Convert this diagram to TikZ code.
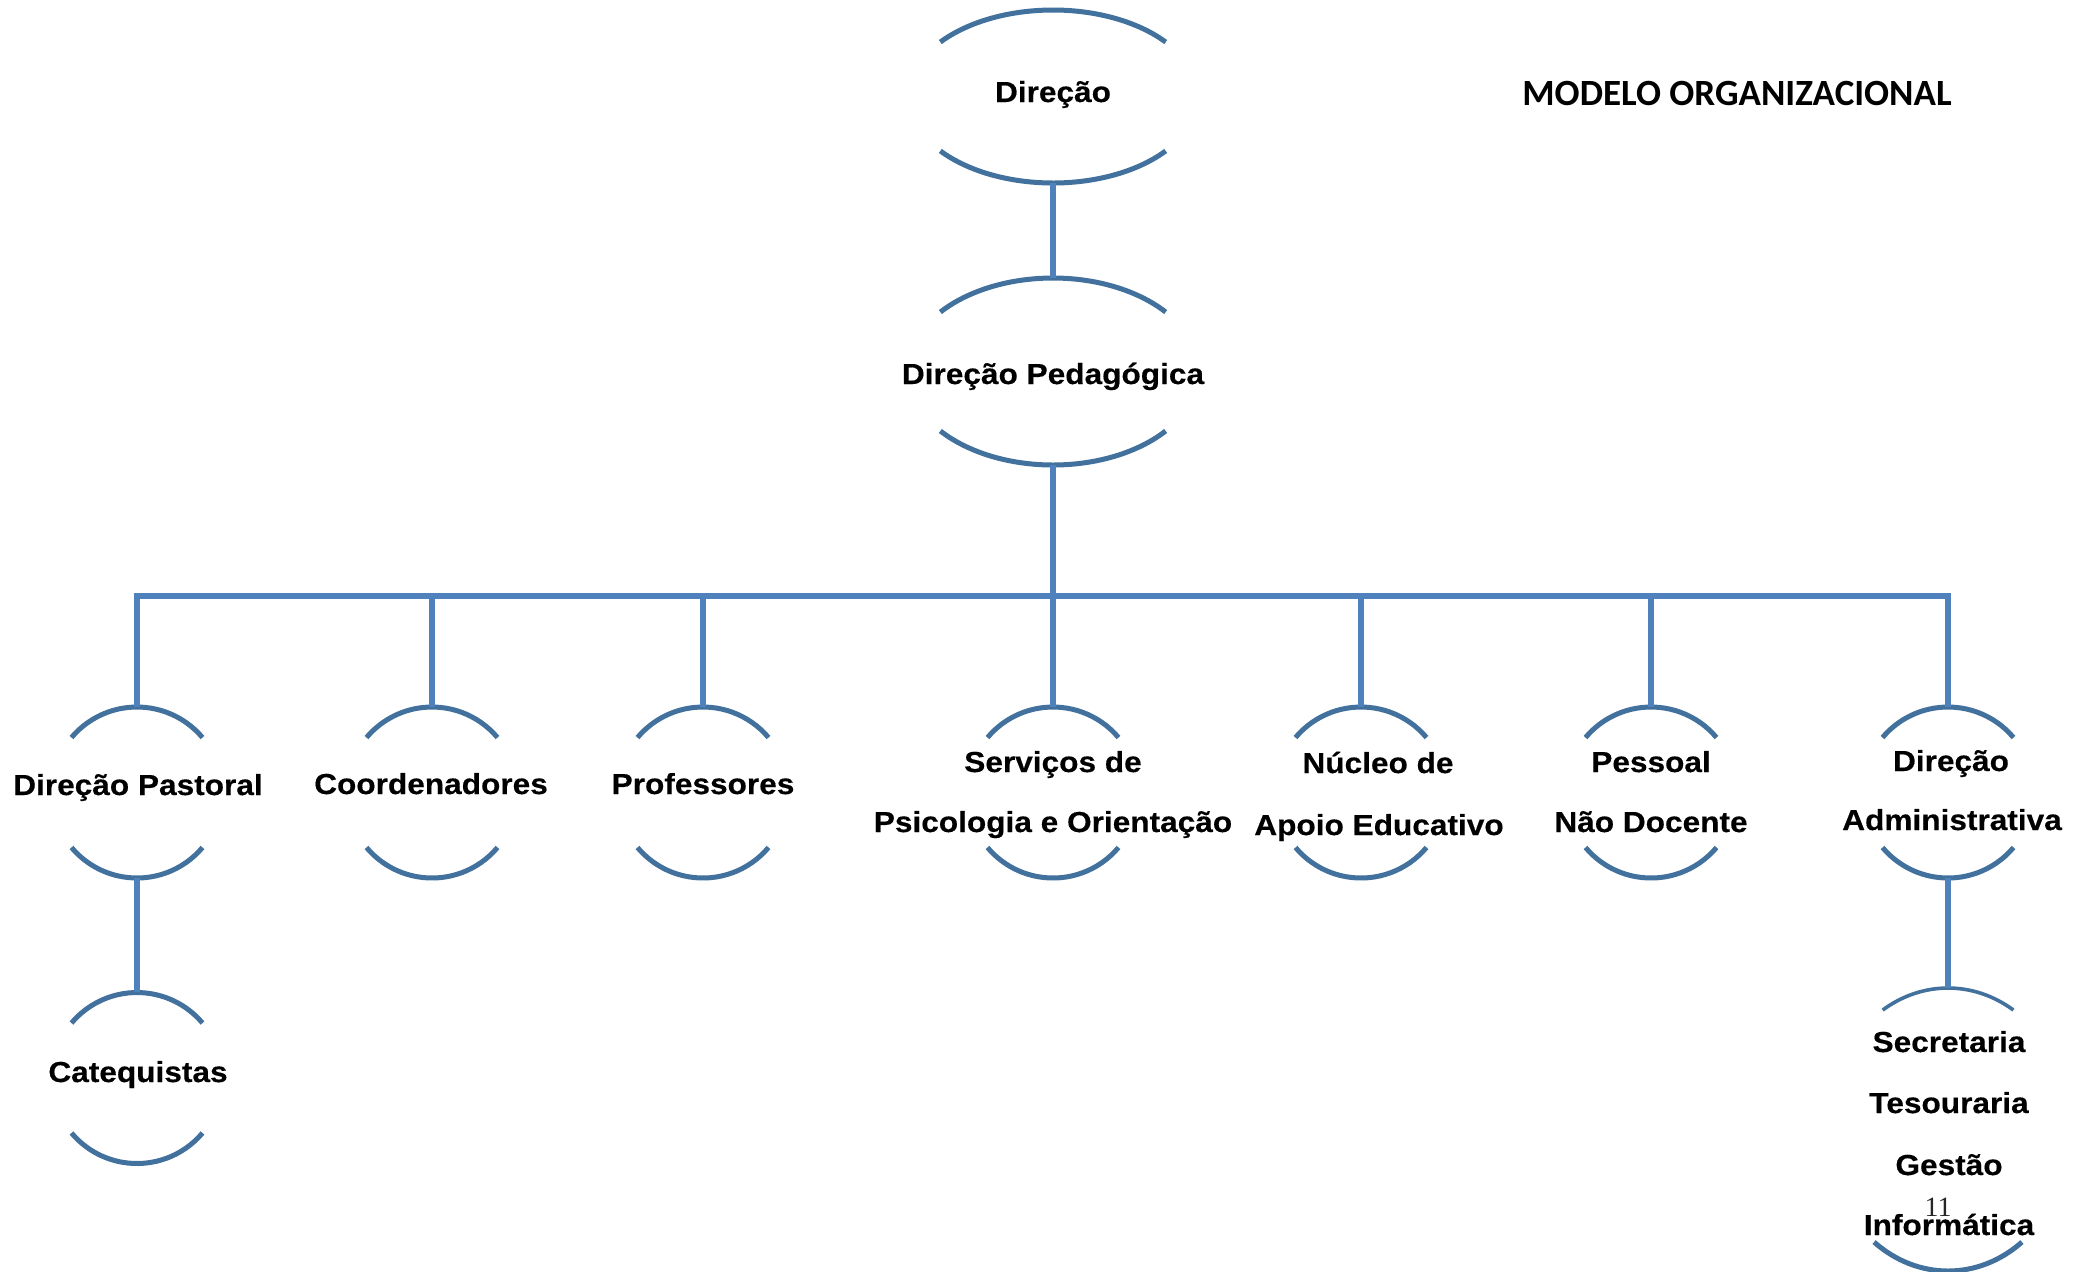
\documentclass[tikz,border=0pt]{standalone}
\usepackage{fontspec}
\newfontfamily\labfont{Liberation Sans}[FakeStretch=1.09,FakeBold=0.35]
\newfontfamily\titlefont{Carlito}
\newfontfamily\numfont{Liberation Serif}
\definecolor{arcblue}{RGB}{65,113,156}
\definecolor{connblue}{RGB}{79,129,189}
\newcommand{\ovalarcs}[4]{%
  \draw[arcline] (#1.center) ++(#4:#2 and #3) arc[start angle=#4, end angle=180-#4, x radius=#2, y radius=#3];
  \draw[arcline] (#1.center) ++(-#4:#2 and #3) arc[start angle=-#4, end angle=-180+#4, x radius=#2, y radius=#3];}
\begin{document}
\begin{tikzpicture}[x=0.5pt,y=0.5pt,
  arcline/.style={draw=arcblue,line width=2.5pt},
  conn/.style={draw=connblue,line width=3pt},
  holder/.style={draw=none,rectangle,inner sep=0pt},
  lab/.style={font=\labfont\bfseries\fontsize{14.5}{17}\selectfont,anchor=base,inner sep=0pt}]
\useasboundingbox (0,0) rectangle (2091,-1271);
\fill[white] (0,0) rectangle (2091,-1271);
% shape holders
\node[holder,minimum width=145pt,minimum height=86.5pt] (dir) at (1053,-96.5) {};
\node[holder,minimum width=146pt,minimum height=93.5pt] (dped) at (1053,-371.5) {};
\node[holder,minimum width=85.5pt,minimum height=85.5pt] (dpa) at (137,-792.5) {};
\node[holder,minimum width=85.5pt,minimum height=85.5pt] (coo) at (432,-792.5) {};
\node[holder,minimum width=85.5pt,minimum height=85.5pt] (pro) at (703,-792.5) {};
\node[holder,minimum width=85.5pt,minimum height=85.5pt] (spo) at (1053,-792.5) {};
\node[holder,minimum width=85.5pt,minimum height=85.5pt] (nae) at (1361,-792.5) {};
\node[holder,minimum width=85.5pt,minimum height=85.5pt] (pnd) at (1651,-792.5) {};
\node[holder,minimum width=85.5pt,minimum height=85.5pt] (dad) at (1948,-792.5) {};
\node[holder,minimum width=85.5pt,minimum height=85.5pt] (cat) at (137,-1078) {};
\node[holder,minimum width=122pt,minimum height=141.5pt] (sec) at (1948,-1129.5) {};
% arcs
\ovalarcs{dir}{72.5pt}{43.25pt}{39}
\ovalarcs{dped}{73pt}{46.75pt}{39.5}
\foreach \n in {dpa,coo,pro,spo,nae,pnd,dad,cat}{\ovalarcs{\n}{42.75pt}{42.75pt}{40}}
\draw[arcline,line width=1.8pt] (sec.center) ++(57.6:61pt and 70.75pt) arc[start angle=57.6, end angle=122.4, x radius=61pt, y radius=70.75pt];
\draw[arcline] (sec.center) ++(-52.7:61pt and 70.75pt) arc[start angle=-52.7, end angle=-127.3, x radius=61pt, y radius=70.75pt];
% connectors
\coordinate (bus) at (1053,-596);
\draw[conn] (dir.south) -- (dped.north);
\draw[conn] (dped.south) -- (bus);
\foreach \n in {dpa,coo,pro,spo,nae,pnd,dad}{\draw[conn] (bus) -| (\n.north);}
\draw[conn] (dpa.south) -- (cat.north);
\draw[conn] (dad.south) -- (sec.north);
% labels
\node[lab] (t-dir) at (1053,-102) {Direção};
\node[lab] (t-dped) at (1053,-384) {Direção Pedagógica};
\node[lab] (t-dpa) at (138,-795) {Direção Pastoral};
\node[lab] (t-coo) at (431,-794) {Coordenadores};
\node[lab] (t-pro) at (703,-794) {Professores};
\node[lab] (t-spo1) at (1053,-772) {Serviços de};
\node[lab] (t-spo2) at (1053,-832) {Psicologia e Orientação};
\node[lab] (t-nae1) at (1378,-773) {Núcleo de};
\node[lab] (t-nae2) at (1379,-835) {Apoio Educativo};
\node[lab] (t-pnd1) at (1651,-772) {Pessoal};
\node[lab] (t-pnd2) at (1651,-832) {Não Docente};
\node[lab] (t-dad1) at (1951,-771) {Direção};
\node[lab] (t-dad2) at (1952,-830) {Administrativa};
\node[lab] (t-cat) at (138,-1082) {Catequistas};
\node[lab] (t-sec1) at (1949,-1052) {Secretaria};
\node[lab] (t-sec2) at (1949,-1113) {Tesouraria};
\node[lab] (t-sec3) at (1949,-1175) {Gestão};
\node[lab] (t-sec4) at (1949,-1235) {Informática};
\node[font=\titlefont\bfseries\fontsize{18.5}{22}\selectfont,anchor=base,inner sep=0pt] (title) at (1737,-105) {MODELO ORGANIZACIONAL};
\node[font=\numfont\fontsize{14}{16}\selectfont,anchor=base,inner sep=0pt,text=black!85] (pg) at (1938,-1216) {11};
\end{tikzpicture}
\end{document}
